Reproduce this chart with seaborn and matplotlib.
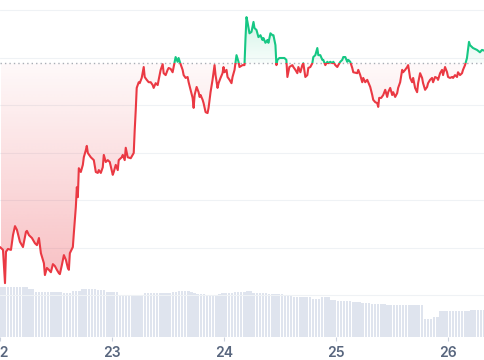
import numpy as np
import pandas as pd
import seaborn as sns
import matplotlib.pyplot as plt
from matplotlib.colors import to_rgb
from matplotlib.patches import Polygon, Rectangle

# -------- data (hours since the 22nd, price) --------
hours = [0.00, 0.64, 1.07, 1.28, 1.71, 2.35, 2.78, 3.21, 3.63, 4.27, 4.92, 5.56, 5.77, 6.20,
         6.84, 7.48, 7.91, 8.34, 8.76, 9.40, 9.62, 10.04, 10.47, 10.90, 11.33, 11.75, 12.18,
         12.61, 12.82, 13.25, 13.68, 14.11, 14.53, 14.75, 14.96, 15.39, 15.60, 15.82, 16.24,
         16.46, 16.67, 16.88, 17.31, 17.74, 17.95, 18.38, 18.59, 18.81, 19.45, 20.09, 20.52,
         20.94, 21.16, 21.59, 22.01, 22.23, 22.65, 23.08, 23.51, 24.15, 24.36, 24.79, 25.22,
         25.43, 26.07, 26.29, 26.71, 26.93, 27.35, 28.00, 28.64, 28.85, 29.07, 29.28, 29.71,
         29.92, 30.35, 30.78, 30.99, 31.42, 31.84, 32.27, 32.70, 32.91, 33.34, 33.77, 33.98,
         34.41, 34.84, 35.05, 35.48, 35.90, 36.12, 36.55, 36.97, 37.19, 37.61, 38.04, 38.25,
         38.68, 39.11, 39.33, 39.76, 40.18, 40.40, 40.82, 41.25, 41.47, 41.68, 42.11, 42.53,
         42.75, 42.96, 43.39, 43.60, 44.03, 44.45, 44.67, 45.09, 45.52, 45.95, 46.16, 46.59,
         46.81, 47.23, 47.66, 47.87, 48.09, 48.51, 48.73, 49.16, 49.58, 49.80, 50.23, 50.65,
         51.08, 51.29, 51.94, 52.36, 52.58, 52.79, 53.00, 53.43, 53.86, 54.29, 54.50, 54.93,
         55.35, 55.78, 56.21, 56.42, 56.85, 57.28, 57.49, 57.92, 58.35, 58.56, 58.99, 59.20,
         59.41, 59.84, 60.48, 60.91, 61.33, 61.55, 61.97, 62.62, 62.83, 63.26, 63.68, 63.90,
         64.33, 64.75, 64.96, 65.39, 65.82, 66.03, 66.46, 66.89, 67.10, 67.53, 67.96, 68.17,
         68.60, 69.03, 69.24, 69.67, 70.10, 70.31, 70.74, 71.17, 71.38, 71.81, 72.24, 72.45,
         72.88, 73.30, 73.52, 73.95, 74.37, 74.59, 75.01, 75.44, 75.66, 76.51, 76.73, 77.15,
         77.58, 77.79, 78.22, 78.65, 78.86, 79.29, 79.72, 79.93, 80.36, 80.79, 81.00, 81.21,
         81.64, 82.07, 82.50, 82.92, 83.14, 83.57, 83.99, 84.21, 84.63, 85.06, 85.27, 85.70,
         86.13, 86.34, 86.77, 87.20, 87.41, 87.84, 88.26, 88.48, 88.90, 89.33, 89.55, 89.97,
         90.40, 90.61, 91.04, 91.47, 91.68, 92.11, 92.53, 92.75, 93.18, 93.60, 93.82, 94.25,
         94.67, 94.89, 95.31, 95.74, 95.96, 96.39, 96.81, 97.03, 97.45, 97.88, 98.09, 98.52,
         98.95, 99.16, 99.59, 100.01, 100.23, 100.44, 100.66, 101.08, 101.30, 102.15, 102.79,
         103.22, 103.86]

price = [2.101, 2.095, 2.025, 2.091, 2.097, 2.095, 2.126, 2.145, 2.137, 2.112, 2.101, 2.133, 2.135, 2.126,
         2.120, 2.109, 2.105, 2.120, 2.088, 2.067, 2.042, 2.057, 2.053, 2.048, 2.065, 2.061, 2.053,
         2.046, 2.044, 2.063, 2.084, 2.074, 2.057, 2.053, 2.088, 2.097, 2.101, 2.131, 2.185,
         2.227, 2.206, 2.267, 2.259, 2.274, 2.290, 2.305, 2.314, 2.299, 2.290, 2.284, 2.259,
         2.257, 2.263, 2.257, 2.269, 2.295, 2.280, 2.284, 2.280, 2.253, 2.259, 2.274, 2.263,
         2.284, 2.290, 2.295, 2.284, 2.310, 2.290, 2.288, 2.299, 2.347, 2.389, 2.436, 2.448,
         2.446, 2.457, 2.480, 2.459, 2.453, 2.448, 2.448, 2.442, 2.436, 2.446, 2.442, 2.453,
         2.474, 2.486, 2.467, 2.463, 2.474, 2.478, 2.476, 2.469, 2.480, 2.501, 2.491, 2.499,
         2.486, 2.474, 2.463, 2.457, 2.459, 2.448, 2.432, 2.415, 2.394, 2.421, 2.438, 2.427,
         2.417, 2.421, 2.411, 2.404, 2.385, 2.383, 2.394, 2.427, 2.453, 2.484, 2.463, 2.436,
         2.446, 2.457, 2.467, 2.480, 2.469, 2.474, 2.459, 2.453, 2.446, 2.459, 2.474, 2.505,
         2.491, 2.480, 2.484, 2.484, 2.541, 2.585, 2.575, 2.551, 2.554, 2.575, 2.562, 2.558,
         2.543, 2.547, 2.537, 2.541, 2.531, 2.537, 2.531, 2.551, 2.547, 2.547, 2.526, 2.484,
         2.495, 2.499, 2.499, 2.499, 2.495, 2.459, 2.480, 2.484, 2.480, 2.474, 2.467, 2.480,
         2.469, 2.484, 2.488, 2.459, 2.463, 2.478, 2.480, 2.488, 2.501, 2.505, 2.520, 2.505,
         2.505, 2.495, 2.495, 2.484, 2.491, 2.488, 2.491, 2.488, 2.491, 2.484, 2.480, 2.484,
         2.491, 2.495, 2.501, 2.501, 2.491, 2.495, 2.491, 2.478, 2.469, 2.467, 2.474, 2.463,
         2.448, 2.457, 2.448, 2.453, 2.448, 2.438, 2.421, 2.411, 2.406, 2.404, 2.396, 2.415,
         2.415, 2.421, 2.432, 2.417, 2.427, 2.436, 2.421, 2.427, 2.417, 2.425, 2.436, 2.448,
         2.474, 2.469, 2.474, 2.480, 2.484, 2.457, 2.448, 2.457, 2.436, 2.427, 2.446, 2.467,
         2.457, 2.446, 2.432, 2.438, 2.446, 2.453, 2.457, 2.448, 2.459, 2.457, 2.453, 2.467,
         2.474, 2.463, 2.480, 2.469, 2.459, 2.457, 2.459, 2.457, 2.463, 2.459, 2.469, 2.463,
         2.467, 2.474, 2.484, 2.499, 2.516, 2.533, 2.526, 2.522, 2.520, 2.516, 2.511,
         2.516, 2.514]

base_price = 2.488          # opening price of the period (dotted line)
grid_prices = [2.0, 2.1, 2.2, 2.3, 2.4, 2.5, 2.6]

vol_step = 2 / 3            # one volume bar every 40 minutes
volume = [5.0, 5.0, 5.0, 5.0, 5.0, 5.0, 5.0, 5.0, 5.0, 4.8, 4.8,
          4.5, 4.5, 4.5, 4.5, 4.5, 4.5, 4.5, 4.5, 4.5, 4.4, 4.4, 4.4,
          4.6, 4.6, 4.6, 4.8, 4.8, 4.8, 4.8, 4.8, 4.7, 4.7, 4.7,
          4.5, 4.5, 4.5, 4.5, 4.2, 4.2, 4.2, 4.2, 4.1, 4.1, 4.1, 4.1,
          4.4, 4.4, 4.4, 4.4, 4.4, 4.4, 4.4, 4.4, 4.4,
          4.5, 4.5, 4.6, 4.6, 4.6, 4.6, 4.5, 4.4, 4.3, 4.3, 4.3,
          4.1, 4.1, 4.1, 4.1, 4.3, 4.4, 4.4, 4.4, 4.4, 4.5, 4.5, 4.5, 4.5,
          4.6, 4.6, 4.4, 4.4, 4.4, 4.4, 4.4, 4.3, 4.3, 4.3, 4.3, 4.3,
          4.2, 4.2, 4.2, 4.0, 4.0, 4.0, 4.0, 4.0, 4.0, 3.8, 3.8, 3.8,
          4.0, 4.0, 4.0, 3.7, 3.7, 3.6, 3.6, 3.6, 3.6, 3.6, 3.5, 3.5, 3.5,
          3.4, 3.4, 3.4, 3.3, 3.3, 3.3, 3.3, 3.3,
          3.2, 3.2, 3.2, 3.2, 3.2, 3.2, 3.2, 3.2, 3.2, 3.2, 3.2, 3.2,
          1.8, 1.8, 1.8, 2.0, 2.0,
          2.6, 2.6, 2.6, 2.6, 2.6, 2.6, 2.6, 2.6, 2.6, 2.6,
          2.7, 2.7, 2.7, 2.7, 2.7]

day_ticks = [0, 24, 48, 72, 96]
day_labels = ["22", "23", "24", "25", "26"]

UP = "#16c784"
DOWN = "#ea3943"

# -------- figure --------
sns.set_theme(style="white")
plt.rcParams["font.family"] = ["Inter", "DejaVu Sans"]

fig = plt.figure(figsize=(4.85, 3.6), dpi=100)
ax = fig.add_axes([0, 23 / 360, 1, 337 / 360])
ax_vol = ax.twinx()
ax.set_zorder(ax_vol.get_zorder() + 1)
ax.patch.set_visible(False)

xmin, xmax = 0.21, 103.87

# volume bars in the back
vol_t = np.arange(len(volume)) * vol_step + vol_step / 2
ax_vol.bar(vol_t, volume, width=0.52, color="#dfe4ee", linewidth=0)
ax_vol.set_ylim(0, 33.7)
ax_vol.set_yticks([])

df = pd.DataFrame({"hour": hours, "price": price})

# gradient areas between price and the opening price
area = Polygon(np.vstack([np.column_stack([df.hour, df.price]),
                          [[df.hour.iloc[-1], base_price], [df.hour.iloc[0], base_price]]]),
               closed=True, facecolor="none", edgecolor="none", transform=ax.transData)
ax.add_patch(area)

n = 256
red = np.zeros((n, 1, 4))
red[..., :3] = to_rgb(DOWN)
red[:, 0, 3] = np.linspace(0.34, 0.03, n)
im_r = ax.imshow(red, extent=[xmin, xmax, 2.0, base_price], origin="lower",
                 aspect="auto", interpolation="bilinear", zorder=1)
im_r.set_clip_path(area)

green = np.zeros((n, 1, 4))
green[..., :3] = to_rgb(UP)
green[:, 0, 3] = np.linspace(0.03, 0.24, n)
im_g = ax.imshow(green, extent=[xmin, xmax, base_price, 2.60], origin="lower",
                 aspect="auto", interpolation="bilinear", zorder=1)
im_g.set_clip_path(area)

ax.axhline(base_price, color="#a9aeb6", lw=1, ls=(0, (1, 2.2)), zorder=2)

# price line: green above the opening price, red below
for color, y0, h in [(UP, base_price, 5), (DOWN, base_price - 5, 5)]:
    sns.lineplot(data=df, x="hour", y="price", color=color, lw=1.5, ax=ax, zorder=3)
    line = ax.lines[-1]
    line.set_solid_joinstyle("round")
    line.set_clip_path(Rectangle((-50, y0), 300, h, transform=ax.transData))

# -------- axes styling --------
ax.set_xlim(xmin, xmax)
ax_vol.set_xlim(xmin, xmax)
ax.set_ylim(1.9116, 2.6211)
ax.set_yticks(grid_prices)
ax.grid(axis="y", color="#eff2f5", lw=0.8)
ax.grid(axis="x", visible=False)
ax.tick_params(axis="y", left=False, labelleft=False)
ax.set_xticks(day_ticks, day_labels)
ax.tick_params(axis="x", bottom=True, length=3, width=0.8, color="#c9d0dc",
               labelsize=10, labelcolor="#58667e", pad=3.5)
for lab in ax.get_xticklabels():
    lab.set_fontweight("semibold")
ax.set_xlabel("")
ax.set_ylabel("")
for a in (ax, ax_vol):
    for s in a.spines.values():
        s.set_visible(False)

fig.savefig("out.png", dpi=100)
